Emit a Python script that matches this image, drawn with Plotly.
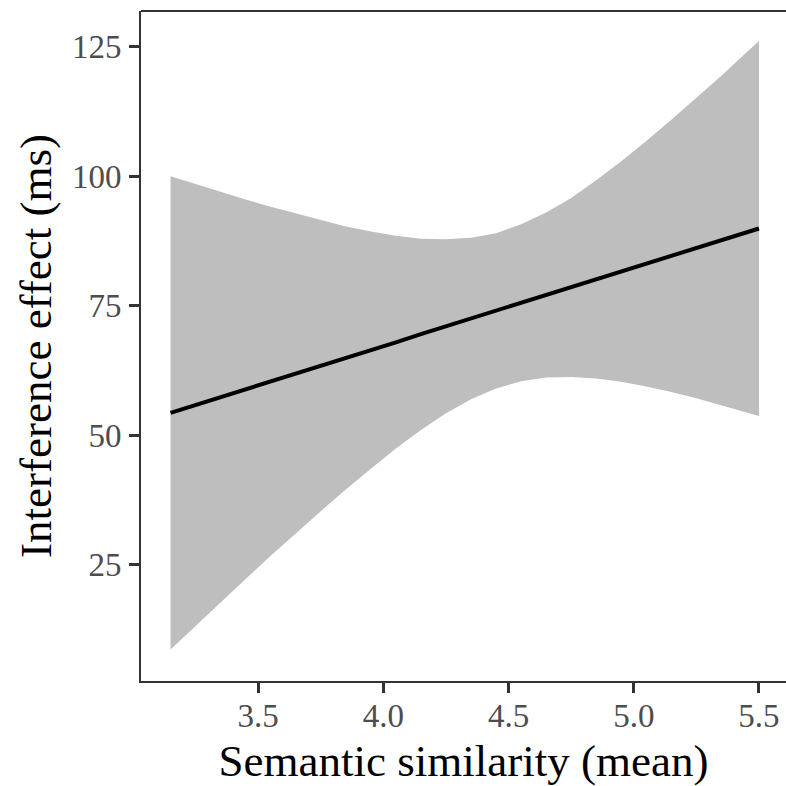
import plotly.graph_objects as go

# Linear fit of interference effect on semantic similarity, with 95% CI band
similarity = [3.15, 3.25, 3.35, 3.45, 3.55, 3.65, 3.75, 3.85, 3.95, 4.05, 4.15, 4.25,
              4.35, 4.45, 4.55, 4.65, 4.75, 4.85, 4.95, 5.05, 5.15, 5.25, 5.35, 5.45, 5.5]
fit = [54.3, 55.8, 57.3, 58.9, 60.4, 61.9, 63.4, 64.9, 66.4, 67.9, 69.5, 71.0,
       72.5, 74.0, 75.5, 77.0, 78.5, 80.1, 81.6, 83.1, 84.6, 86.1, 87.6, 89.2, 89.9]
ci_upper = [100.0, 98.5, 96.9, 95.5, 94.1, 92.8, 91.5, 90.3, 89.3, 88.5, 87.9, 87.8,
            88.1, 89.0, 90.7, 93.0, 95.8, 99.2, 102.9, 106.8, 110.9, 115.2, 119.4, 123.9, 126.1]
ci_lower = [8.6, 13.1, 17.7, 22.2, 26.7, 31.0, 35.3, 39.5, 43.5, 47.4, 51.0, 54.2,
            56.9, 59.0, 60.4, 61.1, 61.2, 60.9, 60.3, 59.4, 58.3, 57.1, 55.8, 54.4, 53.7]

x_ticks = [3.5, 4.0, 4.5, 5.0, 5.5]
x_labels = ["3.5", "4.0", "4.5", "5.0", "5.5"]
y_ticks = [25, 50, 75, 100, 125]
y_labels = ["25", "50", "75", "100", "125"]

font = "Liberation Serif, Times New Roman, serif"

fig = go.Figure()
fig.add_trace(go.Scatter(
    x=similarity + similarity[::-1],
    y=ci_upper + ci_lower[::-1],
    fill="toself", fillcolor="#bebebe",
    line=dict(width=0), mode="lines", hoverinfo="skip", showlegend=False,
))
fig.add_trace(go.Scatter(
    x=similarity, y=fit, mode="lines",
    line=dict(color="black", width=4), showlegend=False,
))

axis_common = dict(
    showgrid=False, zeroline=False, showline=True, linecolor="#333333", linewidth=2,
    ticks="outside", ticklen=10, tickwidth=2.5, tickcolor="#333333",
    tickfont=dict(family=font, size=33, color="#4d4d4d"),
)

fig.update_layout(
    width=786, height=786,
    margin=dict(l=141, r=0, t=11, b=102),
    plot_bgcolor="white", paper_bgcolor="white",
    xaxis=dict(
        range=[3.032, 5.608], tickvals=x_ticks, ticktext=x_labels,
        ticklabelstandoff=-6,
        title=dict(text="Semantic similarity (mean)", font=dict(family=font, size=45, color="black"), standoff=21),
        **axis_common,
    ),
    yaxis=dict(
        range=[2.5, 131.9], tickvals=y_ticks, ticktext=y_labels,
        ticklabelstandoff=1,
        title=dict(text="Interference effect (ms)", font=dict(family=font, size=45, color="black"), standoff=6),
        **axis_common,
    ),
    shapes=[dict(type="line", xref="paper", yref="paper", x0=0, x1=1, y0=1, y1=1,
                 line=dict(color="#333333", width=2))],
)

fig.write_html("out.html")
